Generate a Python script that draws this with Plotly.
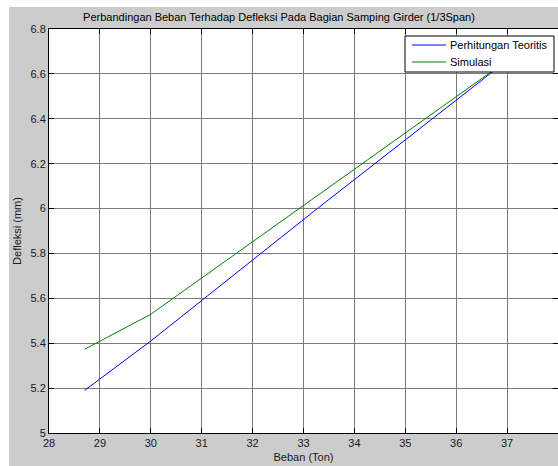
import plotly.graph_objects as go

# Data
beban_teoritis = [28.7, 30.0, 33.3, 37.0]
defleksi_teoritis = [5.19, 5.41, 6.005, 6.66]
beban_simulasi = [28.7, 30.0, 33.3, 37.0]
defleksi_simulasi = [5.373, 5.529, 6.062, 6.66]
x_ticks = [28, 29, 30, 31, 32, 33, 34, 35, 36, 37, 38]
y_ticks = [5.0, 5.2, 5.4, 5.6, 5.8, 6.0, 6.2, 6.4, 6.6, 6.8]
y_ticktext = ["5", "5.2", "5.4", "5.6", "5.8", "6", "6.2", "6.4", "6.6", "6.8"]
series_names = ["Perhitungan Teoritis", "Simulasi"]
series_colors = ["#0000ff", "#008000"]

W, H = 558, 466
L, R, T, B = 49, 0, 29, 33
pw, ph = W - L - R, H - T - B

def px_x(p):
    return (p - L) / pw

def px_y(p):
    return (H - B - p) / ph

fig = go.Figure()
fig.add_trace(go.Scatter(x=beban_teoritis, y=defleksi_teoritis, mode="lines",
                         name=series_names[0], line=dict(color=series_colors[0], width=1)))
fig.add_trace(go.Scatter(x=beban_simulasi, y=defleksi_simulasi, mode="lines",
                         name=series_names[1], line=dict(color=series_colors[1], width=1)))

FAM = "Liberation Sans, Arial, sans-serif"
font = dict(family=FAM, size=11, color="#1a1a1a")

axis_common = dict(showline=True, linecolor="black", linewidth=1, mirror="ticks",
                   ticks="inside", ticklen=5, tickcolor="black",
                   showgrid=True, gridcolor="#7a7a7a", gridwidth=1,
                   zeroline=False, automargin=False, tickfont=font)

shapes = [
    dict(type="rect", xref="paper", yref="paper",
         x0=px_x(0), x1=px_x(9), y0=px_y(H), y1=px_y(0),
         fillcolor="white", line=dict(width=0), layer="below"),
    dict(type="rect", xref="paper", yref="paper",
         x0=px_x(0), x1=px_x(W + 5), y0=px_y(7), y1=px_y(0),
         fillcolor="white", line=dict(width=0), layer="below"),
    # legend box
    dict(type="rect", xref="paper", yref="paper",
         x0=px_x(405), x1=px_x(554), y0=px_y(72), y1=px_y(36),
         fillcolor="white", line=dict(color="black", width=1), layer="above"),
]
annotations = []
legend_rows = [45, 62]
for name, color, ry in zip(series_names, series_colors, legend_rows):
    shapes.append(dict(type="line", xref="paper", yref="paper",
                       x0=px_x(412), x1=px_x(446), y0=px_y(ry), y1=px_y(ry),
                       line=dict(color=color, width=1), layer="above"))
    annotations.append(dict(text=name, xref="paper", yref="paper",
                            x=px_x(448), xanchor="left", y=px_y(ry), yanchor="middle",
                            showarrow=False, font=dict(family=FAM, size=11, color="black")))

fig.update_layout(
    width=W, height=H,
    margin=dict(l=L, r=R, t=T, b=B, pad=0),
    paper_bgcolor="#cccccc", plot_bgcolor="white",
    font=font,
    title=dict(text="Perbandingan Beban Terhadap Defleksi Pada Bagian Samping Girder (1/3Span)",
               x=px_x((L + W) / 2), xanchor="center", y=1 - 17 / H, yanchor="middle",
               font=dict(family=FAM, size=11, color="black")),
    xaxis=dict(range=[28, 38], tickvals=x_ticks,
               title=dict(text="Beban (Ton)", font=font, standoff=5), **axis_common),
    yaxis=dict(range=[5, 6.8], tickvals=y_ticks, ticktext=y_ticktext,
               title=dict(text="Defleksi (mm)", font=font, standoff=6), **axis_common),
    showlegend=False,
    shapes=shapes,
    annotations=annotations,
)

fig.write_html("out.html")
